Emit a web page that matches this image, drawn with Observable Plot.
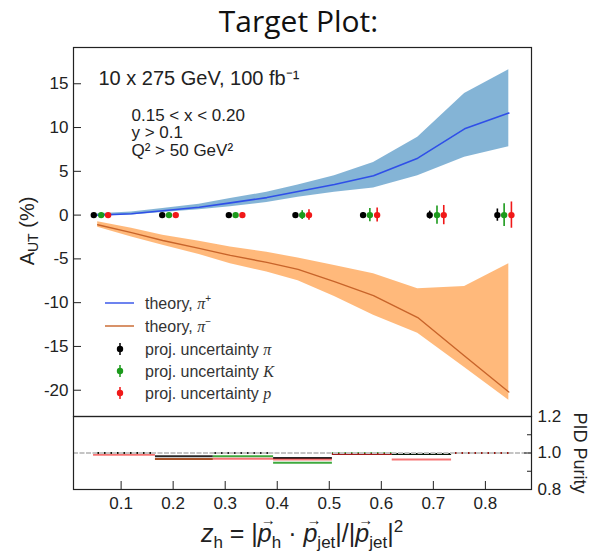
<!DOCTYPE html>
<html><head><meta charset="utf-8">
<script src="https://cdn.jsdelivr.net/npm/d3@7"></script>
<script src="https://cdn.jsdelivr.net/npm/@observablehq/plot@0.6"></script>
<style>
body{margin:0;background:#fff;font-family:"Liberation Sans",Arial,sans-serif;}
#wrap{position:relative;width:595px;height:553px;overflow:hidden;background:#fff}
#wrap > *{position:absolute}
#title{left:0;width:597px;top:0px;text-align:center;font-family:"Open Sans",sans-serif;font-size:30px;color:#111;line-height:42px}
#ylab{left:27px;top:231px;transform:translate(-50%,-50%) rotate(-90deg);font-size:20px;color:#222;white-space:nowrap}
#ylab sub{font-size:14px;vertical-align:-4px;line-height:0}
#xlab{left:0;width:604px;top:518px;text-align:center;font-size:25px;color:#222;line-height:30px;white-space:nowrap}
#xlab sub{font-size:17px;vertical-align:-6px;line-height:0}
#xlab sup{font-size:17px;vertical-align:10px;line-height:0}
.vec{position:relative;display:inline-block;font-style:italic}
.vec::before{content:"\2192";position:absolute;left:3px;top:-6px;font-size:15px;line-height:1;font-style:normal}
</style></head><body>
<div id="wrap">
  <div id="title">Target Plot:</div>
  <div id="ylab">A<sub>UT</sub> (%)</div>
  <div id="xlab"><i>z</i><sub>h</sub> = |<span class="vec">p</span><sub>h</sub> · <span class="vec">p</span><sub>jet</sub>|/|<span class="vec">p</span><sub>jet</sub>|<sup>2</sup></div>
</div>
<script>
// ---- theory curves (A_UT in %) ----
const zTheory   = [0.055, 0.12, 0.18, 0.25, 0.31, 0.38, 0.44, 0.51, 0.585, 0.67, 0.76, 0.845];
const piPlus    = [0.0, 0.15, 0.5, 0.9, 1.4, 2.0, 2.7, 3.5, 4.5, 6.5, 9.85, 11.65];
const piPlusHi  = [0.15, 0.35, 0.75, 1.25, 1.9, 2.6, 3.45, 4.5, 6.0, 8.9, 13.9, 16.6];
const piPlusLo  = [-0.1, 0.0, 0.3, 0.6, 0.95, 1.45, 2.05, 2.6, 3.1, 4.5, 6.6, 7.8];
const piMinus   = [-1.1, -2.0, -2.9, -3.8, -4.6, -5.4, -6.2, -7.6, -9.2, -11.7, -16.1, -20.2];
const piMinusHi = [-0.75, -1.5, -2.3, -3.0, -3.65, -4.25, -4.9, -5.75, -6.7, -8.4, -8.15, -5.55];
const piMinusLo = [-1.4, -2.5, -3.45, -4.5, -5.55, -6.5, -7.5, -9.3, -11.45, -13.5, -17.4, -21.15];

// ---- projected uncertainties ----
const zPi = [0.0475, 0.179, 0.307, 0.435, 0.565, 0.693, 0.823];
const zK  = [0.0617, 0.192, 0.320, 0.448, 0.578, 0.707, 0.836];
const zP  = [0.075, 0.205, 0.333, 0.461, 0.592, 0.720, 0.850];
const projCentral = [0, 0, 0, 0, 0, 0, 0];
const errPi = [0.2, 0.2, 0.2, 0.25, 0.3, 0.45, 0.7];
const errK  = [0.2, 0.2, 0.25, 0.5, 0.75, 1.05, 1.3];
const errP  = [0.2, 0.25, 0.3, 0.6, 0.8, 1.1, 1.5];

// ---- PID purity ----
const binEdges  = [0.047, 0.166, 0.277, 0.393, 0.506, 0.621, 0.735, 0.854];
const purityPi  = [1.0, 0.982, 1.0, 0.973, 0.995, 0.995, 1.0];
const purityK   = [1.0, 0.967, 0.982, 0.946, 1.0, 0.995, 1.0];
const purityP   = [0.99, 0.967, 0.968, 0.964, 0.995, 0.964, 1.0];

// ---- ticks / labels ----
const yTicks = [-20, -15, -10, -5, 0, 5, 10, 15];
const xTicks = [0.1, 0.2, 0.3, 0.4, 0.5, 0.6, 0.7, 0.8];
const purityTicks = [0.8, 1.0, 1.2];
const purityMinor = [0.9, 1.1];
const beamText = "10 x 275 GeV, 100 fb\u207B\u00B9";
const cutsText = "0.15 < x < 0.20\ny > 0.1\nQ\u00B2 > 50 GeV\u00B2";
const legendLabels = ["theory, ", "theory, ", "proj. uncertainty ", "proj. uncertainty ", "proj. uncertainty "];
const legendSymbols = ["\u03C0", "\u03C0", "\u03C0", "K", "p"];
const legendSups = ["+", "\u2212", "", "", ""];

const colBlueBand = "#1f77b4", colBlueLine = "#2f4fe8";
const colOrangeBand = "#ff7f0e", colOrangeLine = "#c8642a";
const colPi = "#000000", colK = "#1c9a1c", colP = "#f01818";

const theory = zTheory.map((z, i) => ({z, pp: piPlus[i], ppHi: piPlusHi[i], ppLo: piPlusLo[i], pm: piMinus[i], pmHi: piMinusHi[i], pmLo: piMinusLo[i]}));
const mk = (zs, errs) => zs.map((z, i) => ({z, v: projCentral[i], e: errs[i]}));
const ptsPi = mk(zPi, errPi), ptsK = mk(zK, errK), ptsP = mk(zP, errP);
const bins = (pur) => pur.map((v, i) => ({x1: binEdges[i], x2: binEdges[i + 1], v}));

const xDomain = [0.0085, 0.8886];
const font = "'Liberation Sans', Arial, sans-serif";

const errMarks = (pts, c) => [
  Plot.ruleX(pts, {x: "z", y1: d => d.v - d.e, y2: d => d.v + d.e, stroke: c, strokeWidth: 1.6}),
  Plot.dot(pts, {x: "z", y: "v", r: 3.2, fill: c, stroke: null})
];

const main = Plot.plot({
  width: 595, height: 380,
  marginTop: 7, marginBottom: 4, marginLeft: 73, marginRight: 64,
  x: {domain: xDomain, axis: null},
  y: {domain: [-23.0, 19.14]},
  style: {fontFamily: font, fontSize: "17px", color: "#222", background: "transparent", overflow: "visible"},
  marks: [
    Plot.areaY(theory, {x: "z", y1: "ppLo", y2: "ppHi", fill: colBlueBand, fillOpacity: 0.55}),
    Plot.areaY(theory, {x: "z", y1: "pmLo", y2: "pmHi", fill: colOrangeBand, fillOpacity: 0.55}),
    Plot.lineY(theory, {x: "z", y: "pp", stroke: colBlueLine, strokeWidth: 1.6}),
    Plot.lineY(theory, {x: "z", y: "pm", stroke: colOrangeLine, strokeWidth: 1.4}),
    ...errMarks(ptsPi, colPi),
    ...errMarks(ptsK, colK),
    ...errMarks(ptsP, colP),
    Plot.axisY({ticks: yTicks, tickSize: -8, tickPadding: 13, label: null, tickFormat: d => String(d)}),
    Plot.text([beamText], {frameAnchor: "top-left", textAnchor: "start", lineAnchor: "top", dx: 25, dy: 23, fontSize: 20, fill: "#222"}),
    Plot.text([cutsText], {frameAnchor: "top-left", textAnchor: "start", lineAnchor: "top", dx: 58, dy: 61, fontSize: 17, lineHeight: 1.03, fill: "#222"}),
    Plot.frame({stroke: "#222", strokeWidth: 1.2})
  ]
});
main.style.position = "absolute"; main.style.left = "0px"; main.style.top = "40px";

const lower = Plot.plot({
  width: 595, height: 137,
  marginTop: 0, marginBottom: 64, marginLeft: 73, marginRight: 64,
  x: {domain: xDomain},
  y: {domain: [0.8, 1.2]},
  style: {fontFamily: font, fontSize: "17px", color: "#222", background: "transparent", overflow: "visible"},
  marks: [
    Plot.ruleY(bins(purityK), {x1: "x1", x2: "x2", y: "v", stroke: colK, strokeWidth: 2, strokeOpacity: 0.85}),
    Plot.ruleY(bins(purityPi), {x1: "x1", x2: "x2", y: "v", stroke: colPi, strokeWidth: 2, strokeOpacity: 0.85}),
    Plot.ruleY(bins(purityP), {x1: "x1", x2: "x2", y: "v", stroke: colP, strokeWidth: 2, strokeOpacity: 0.6}),
    Plot.ruleY([1.0], {stroke: "#c4c4c4", strokeWidth: 2, strokeDasharray: "5,1.5"}),
    Plot.axisX({ticks: xTicks, tickSize: -8, tickPadding: 15, label: null, tickFormat: d3.format(".1f")}),
    Plot.axisY({anchor: "right", ticks: purityTicks, tickSize: -8, tickPadding: 14, label: null, tickFormat: d3.format(".1f")}),
    Plot.axisY({anchor: "right", ticks: purityMinor, tickSize: -5, tickPadding: 0, label: null, tickFormat: () => ""}),
    Plot.text(["PID Purity"], {frameAnchor: "right", textAnchor: "middle", lineAnchor: "middle", dx: 48, rotate: 90, fontSize: 18, fill: "#222"}),
    Plot.frame({stroke: "#222", strokeWidth: 1.2})
  ]
});
lower.style.position = "absolute"; lower.style.left = "0px"; lower.style.top = "416px";

const wrap = document.getElementById("wrap");
wrap.appendChild(lower);
wrap.appendChild(main);

// ---- legend overlay ----
const rowsY = [303, 326, 349, 371, 393];
const svg = d3.select(wrap).append("svg")
  .attr("width", 595).attr("height", 553)
  .style("position", "absolute").style("left", "0px").style("top", "0px")
  .style("font-family", font);
const kinds = ["line", "line", "err", "err", "err"];
const colors = [colBlueLine, colOrangeLine, colPi, colK, colP];
rowsY.forEach((y, i) => {
  if (kinds[i] === "line") {
    svg.append("line").attr("x1", 105).attr("x2", 134).attr("y1", y).attr("y2", y)
      .attr("stroke", colors[i]).attr("stroke-width", 2).attr("stroke-opacity", 0.7);
  } else {
    svg.append("line").attr("x1", 120).attr("x2", 120).attr("y1", y - 6).attr("y2", y + 6)
      .attr("stroke", colors[i]).attr("stroke-width", 1.5);
    svg.append("circle").attr("cx", 120).attr("cy", y).attr("r", 3.2).attr("fill", colors[i]);
  }
  const t = svg.append("text").attr("x", 145).attr("y", y).attr("dy", "0.35em")
    .attr("font-size", 16).attr("fill", "#333");
  t.append("tspan").text(legendLabels[i]);
  t.append("tspan").attr("font-style", "italic").attr("font-family", "'Liberation Serif', serif").text(legendSymbols[i]);
  if (legendSups[i]) t.append("tspan").attr("font-size", 10).attr("dy", "-0.7em").text(legendSups[i]);
});
</script>
</body></html>
